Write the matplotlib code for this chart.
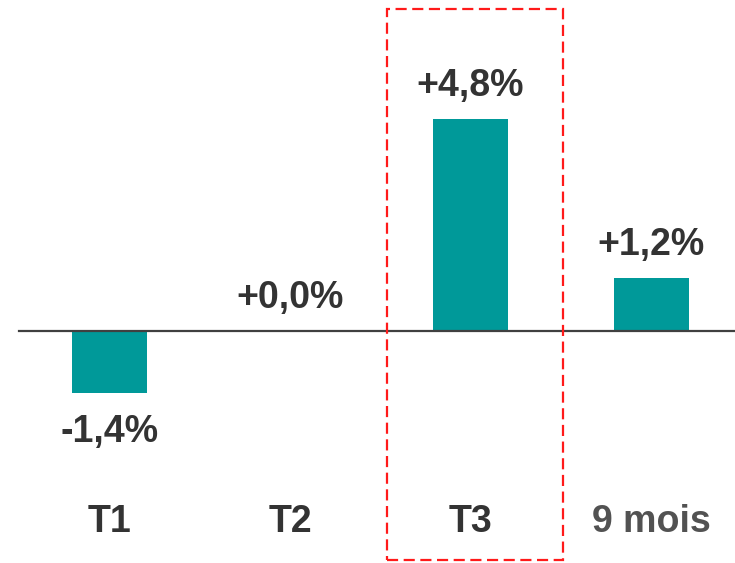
import matplotlib
matplotlib.use("Agg")
import matplotlib.pyplot as plt
from matplotlib.patches import Rectangle

categories = ["T1", "T2", "T3", "9 mois"]
values = [-1.4, 0.0, 4.8, 1.2]
value_labels = ["-1,4%", "+0,0%", "+4,8%", "+1,2%"]
cat_colors = ["#333333", "#333333", "#333333", "#525252"]

teal = "#009999"
plt.rcParams['font.family'] = ['Liberation Sans', 'DejaVu Sans']

fig = plt.figure(figsize=(7.35, 5.63), dpi=100)
ax = fig.add_axes([0, 0, 1, 1])
ax.set_xlim(-0.607, 3.465)
ax.set_ylim(-5.253, 7.494)
ax.axis("off")

x = list(range(len(categories)))
ax.bar(x, values, width=0.415, color=teal, zorder=2)

# zero line
ax.plot([-0.5, 3.5], [0, 0], color="#404040", lw=1.6, zorder=3)

# value labels
for xi, v, lab in zip(x, values, value_labels):
    off = -28 if v < 0 else 24
    ax.annotate(lab, (xi, v), xytext=(0, off), textcoords="offset points",
                ha="center", va="center", fontsize=27, fontweight="bold",
                color="#333333")

# category labels
for xi, c, col in zip(x, categories, cat_colors):
    ax.text(xi, -4.32, c, ha="center", va="center", fontsize=27,
            fontweight="bold", color=col)

# highlight box around T3
ax.add_patch(Rectangle((1.537, -5.18), 0.975, 12.47, fill=False,
                       edgecolor="#ff1a1a", lw=1.6, ls=(0, (5, 2.5)),
                       zorder=4))

fig.savefig("out.png", dpi=100)
